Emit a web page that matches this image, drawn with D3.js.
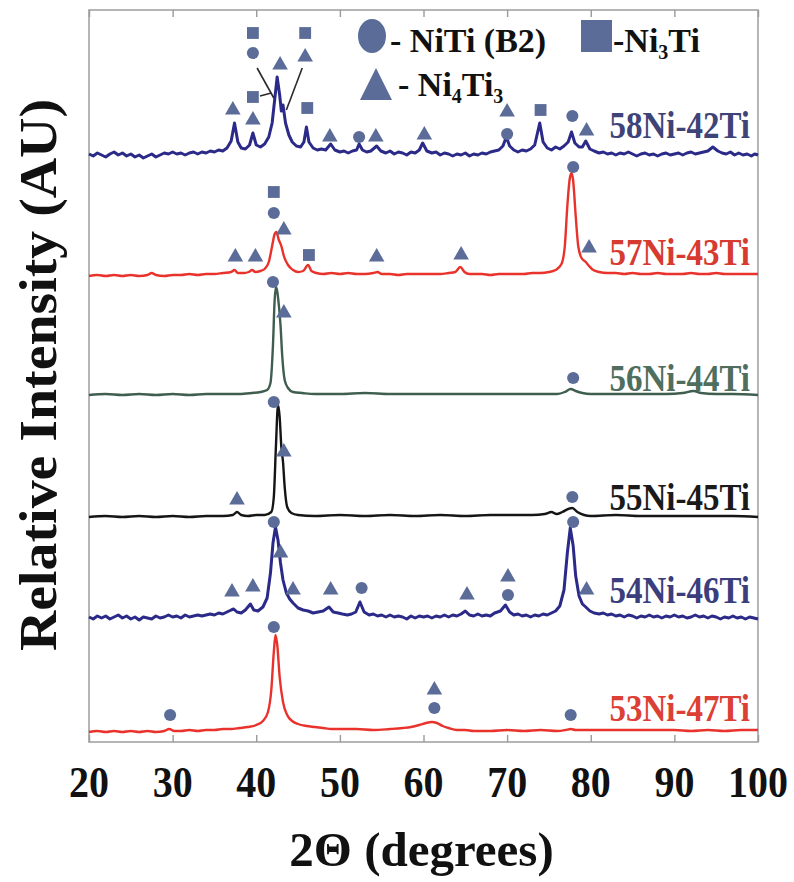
<!DOCTYPE html>
<html><head><meta charset="utf-8">
<script src="https://cdn.jsdelivr.net/npm/d3@7"></script>
<style>
body{margin:0;background:#fff}
text{font-family:"Liberation Serif","Times New Roman",serif;font-weight:bold}
</style></head>
<body><svg id="chart" width="794" height="882"></svg>
<script>
// ---------- data ----------
const xTicks = [20,30,40,50,60,70,80,90,100];
const seriesNames = ["58Ni-42Ti","57Ni-43Ti","56Ni-44Ti","55Ni-45Ti","54Ni-46Ti","53Ni-47Ti"];
const seriesOffsets = [587,466,347,225,124,10];
const labelLift = [17,11,4,7,15,11];

const s58 = [[20,1],[20.5,-1],[21,2],[21.5,0],[22,-2],[22.5,1],[23,3],[23.5,0],[24,2],[24.5,-1],[25,1],[25.5,-2],[26,0],[26.5,-3],[27,-1],[27.5,1],[28,-2],[28.5,0],[29,2],[29.5,1],[30,3],[30.5,1],[31,2],[31.5,0],[32,2],[32.5,3],[33,1],[33.5,3],[34,2],[34.5,4],[35,3],[35.5,5],[36,4],[36.5,7],[37,14],[37.4,32],[37.8,13],[38.2,7],[38.7,6],[39.2,10],[39.6,22],[40,10],[40.5,8],[41,11],[41.5,18],[41.9,32],[42.2,55],[42.5,78],[42.8,60],[43.0,44],[43.2,50],[43.5,32],[43.9,20],[44.3,13],[44.8,9],[45.3,8],[45.7,13],[46,28],[46.3,13],[46.8,7],[47.3,5],[47.8,6],[48.3,5],[48.9,11],[49.4,5],[50,3],[50.5,4],[51,2],[51.5,4],[52,5],[52.3,11],[52.7,5],[53.2,3],[53.7,4],[54.4,9],[54.9,4],[55.5,2],[56,4],[56.5,1],[57,3],[57.5,2],[58,0],[58.5,3],[59,2],[59.5,5],[59.9,12],[60.4,4],[61,2],[61.5,3],[62,0],[62.5,2],[63,1],[63.5,-1],[64,1],[64.5,0],[65,2],[65.5,-1],[66,1],[66.5,0],[67,2],[67.5,1],[68,3],[68.5,4],[69,5],[69.5,9],[69.9,18],[70.3,9],[70.8,5],[71.3,3],[71.8,5],[72.3,4],[72.8,6],[73.3,10],[73.9,32],[74.3,13],[74.8,7],[75.3,5],[75.8,8],[76.3,6],[76.8,9],[77.3,13],[77.7,23],[78.1,12],[78.6,8],[79,8],[79.4,14],[79.9,6],[80.4,4],[81,2],[81.5,3],[82,1],[82.5,2],[83,0],[83.5,2],[84,1],[84.5,3],[85,1],[85.5,-1],[86,1],[86.5,2],[87,0],[87.5,1],[88,-1],[88.5,1],[89,2],[89.5,0],[90,1],[90.5,2],[91,0],[91.5,2],[92,3],[92.5,1],[93,2],[93.5,3],[94,4],[94.6,8],[95.2,4],[95.7,2],[96.2,1],[96.7,3],[97.2,0],[97.7,2],[98.2,0],[98.7,1],[99.2,-1],[99.6,1],[100,0]];

const s57 = [[20,0],[21,1],[22,0],[23,1],[24,0],[25,1],[26,0],[27,1],[27.5,3],[28,1],[29,0],[30,1],[31,1],[32,2],[33,1],[34,2],[35,2],[36,3],[37,4],[37.4,6],[37.8,3],[38.5,3],[39.1,4],[39.5,6],[39.9,4],[40.5,5],[41,7],[41.5,14],[41.9,30],[42.2,42],[42.4,44],[42.7,36],[43,30],[43.3,20],[43.8,11],[44.4,6],[45,4],[45.6,5],[46.2,11],[46.6,5],[47.2,3],[48,2],[49,3],[50,2],[51,3],[52,2],[53,2],[54,3],[54.5,4],[55,2],[56,2],[57,1],[58,2],[59,2],[60,2],[61,2],[62,2],[63,3],[63.8,4],[64.4,9],[64.9,4],[65.5,2],[66,2],[67,2],[68,1],[69,2],[70,2],[71,2],[72,2],[73,3],[74,3],[75,4],[75.8,6],[76.5,12],[76.9,30],[77.2,70],[77.5,98],[77.7,103],[77.9,95],[78.2,60],[78.5,30],[78.9,18],[79.4,14],[79.8,10],[80.3,6],[81,4],[82,3],[83,3],[84,2],[85,3],[86,2],[87,2],[88,3],[89,2],[90,2],[91,2],[92,3],[93,2],[94,2],[95,3],[96,2],[97,2],[98,2],[99,2],[100,2]];

const s56 = [[20,0],[22,1],[24,0],[26,1],[28,0],[30,1],[32,0],[34,1],[36,1],[38,1],[39.5,2],[40.5,3],[41.3,5],[41.7,12],[42.0,50],[42.2,95],[42.35,108],[42.5,104],[42.7,90],[42.9,70],[43.1,40],[43.4,15],[43.8,7],[44.4,3],[45.5,2],[47,1],[50,1],[53,2],[56,1],[59,1],[62,1],[65,1],[68,1],[71,1],[74,1],[76,1],[76.9,3],[77.6,6],[78.2,4],[79,2],[80,1],[83,1],[86,1],[89,1],[91,2],[92.3,4],[93.2,2],[95,1],[97,1],[100,0]];

const s55 = [[20,0],[22,1],[24,0],[26,1],[28,0],[30,1],[32,0],[34,1],[36,1],[37.2,2],[37.7,5],[38.2,2],[39,1],[40,2],[41,2],[41.8,5],[42.1,20],[42.35,70],[42.6,112],[42.8,100],[43.0,70],[43.2,55],[43.4,30],[43.7,10],[44.2,4],[45,2],[47,1],[50,2],[53,1],[56,2],[59,1],[62,2],[65,1],[68,2],[71,2],[73,2],[74.5,3],[75.3,5],[75.9,3],[76.6,5],[77.3,8],[77.8,9],[78.4,5],[79.2,2],[80,1],[83,2],[86,1],[89,1],[92,1],[95,1],[97,1],[100,0]];

const s54 = [[20,1],[20.5,-1],[21,2],[21.5,0],[22,2],[22.5,-1],[23,1],[23.5,3],[24,0],[24.5,2],[25,-1],[25.5,1],[26,-2],[26.5,1],[27,0],[27.5,-1],[28,2],[28.5,0],[29,1],[29.5,3],[30,1],[30.5,2],[31,0],[31.5,3],[32,1],[32.5,2],[33,3],[33.5,2],[34,3],[34.5,4],[35,3],[35.5,5],[36,4],[36.5,6],[37,8],[37.3,9],[37.7,6],[38.2,5],[38.7,8],[39.3,14],[39.7,8],[40.2,7],[40.8,11],[41.3,20],[41.7,45],[42.0,75],[42.3,91],[42.6,78],[42.9,55],[43.2,38],[43.6,25],[44,19],[44.4,15],[45,10],[45.6,8],[46.2,7],[46.8,5],[47.4,6],[48,7],[48.7,11],[49.2,6],[49.8,5],[50.3,4],[50.9,3],[51.4,4],[51.9,6],[52.4,16],[52.9,6],[53.5,3],[54,4],[54.5,2],[55,3],[55.5,1],[56,3],[56.5,1],[57,2],[57.5,1],[58,-1],[58.5,2],[59,0],[59.5,2],[60,1],[60.5,2],[61,0],[61.5,2],[62,1],[62.5,3],[63,1],[63.5,3],[64,2],[64.5,4],[65,7],[65.5,3],[66,2],[66.5,4],[67,2],[67.5,3],[68,2],[68.5,5],[69.2,7],[69.8,13],[70.3,6],[70.8,3],[71.3,4],[71.8,2],[72.3,3],[72.8,1],[73.3,3],[73.8,2],[74.3,4],[74.8,3],[75.3,5],[75.8,7],[76.3,12],[76.8,28],[77.2,65],[77.55,90],[77.9,72],[78.2,42],[78.6,22],[79,14],[79.4,11],[79.9,7],[80.4,5],[81,4],[81.5,5],[82,3],[82.5,4],[83,2],[83.5,3],[84,1],[84.5,3],[85,2],[85.5,0],[86,2],[86.5,1],[87,3],[87.5,1],[88,2],[88.5,0],[89,2],[89.5,1],[90,3],[90.5,1],[91,2],[91.5,0],[92,1],[92.5,3],[93,1],[93.5,2],[94,0],[94.5,2],[95,1],[95.5,-1],[96,1],[96.5,0],[97,2],[97.5,0],[98,1],[98.5,-1],[99,1],[99.5,0],[100,-1]];

const s53 = [[20,0],[21,1],[22,0],[23,1],[24,0],[25,1],[26,0],[27,1],[28,0],[29,1],[29.6,3],[30.2,1],[31,1],[32,2],[33,1],[34,2],[35,2],[36,3],[37,3],[38,4],[39,5],[40,7],[40.8,11],[41.4,20],[41.8,42],[42.1,80],[42.3,97],[42.5,88],[42.8,55],[43.2,30],[43.7,17],[44.3,11],[45,8],[46,6],[47,5],[48,4],[49,3],[50,3],[52,3],[54,2],[56,3],[57.5,4],[58.5,5],[59.5,7],[60.3,9],[61,10],[61.6,9],[62.3,6],[63,4],[64,2],[65,2],[66,1],[68,1],[70,2],[72,1],[74,2],[76,1],[77,2],[77.6,3],[78.2,2],[80,2],[82,2],[84,2],[86,2],[88,2],[90,2],[92,1],[94,2],[96,1],[98,2],[100,2]];

const seriesData = [s58,s57,s56,s55,s54,s53];

// phase markers: [type, 2theta, height above the trace baseline]  c = NiTi(B2), s = Ni3Ti, t = Ni4Ti3
const m58 = [["s",39.6,122],["c",39.6,102],["t",42.85,90],["s",45.85,122],["t",45.85,98],["s",39.6,58],["t",37.2,45],["t",39.6,35],["s",46.1,47],["t",48.8,18],["c",52.3,18],["t",54.3,18],["t",60.1,20],["t",70.0,43],["c",70.0,21],["s",74.0,45],["c",77.8,39],["t",79.5,24]];
const m57 = [["s",42.1,84],["c",42.1,63],["t",43.3,46],["t",37.5,19],["t",39.9,19],["s",46.3,21],["t",54.4,19],["t",64.5,21],["c",77.9,109],["t",79.8,28]];
const m56 = [["c",42.0,113],["t",43.3,82],["c",77.9,17]];
const m55 = [["c",42.1,115],["t",43.3,65],["t",37.7,17],["c",77.8,20]];
const m54 = [["c",42.1,96],["t",42.9,65],["t",37.1,26],["t",39.6,31],["t",44.4,28],["t",48.9,28],["c",52.6,30],["t",65.2,23],["t",70.1,41],["c",70.1,23],["c",77.9,96],["t",79.5,28]];
const m53 = [["c",42.1,105],["c",29.7,17],["t",61.3,42],["c",61.3,24],["c",77.6,17]];
const seriesMarkers = [m58,m57,m56,m55,m54,m53];

// leader lines on the 58Ni-42Ti pattern: [2theta1, h1, 2theta2, h2]
const leaders58 = [[40.1,87,42.1,57],[45.5,87,43.6,45],[40.45,59,41.8,62]];

// ---------- styles ----------
const lineColors = ["#2b2a88","#e8322b","#3f5e4f","#151515","#2b2a88","#e8322b"];
const labelColors = ["#3e4378","#d63a30","#4f6e5e","#1a1a1a","#3a3e7c","#dc4034"];
const lineWidths = [3,2.4,2.4,2.4,3,2.4];
const markerColor = "#5b6c98";

const W = 794, H = 882;
const M = {left:89, right:758, top:10, bottom:742};
const svg = d3.select("#chart");
svg.append("rect").attr("width",W).attr("height",H).attr("fill","#fff");

const x = d3.scaleLinear().domain([20,100]).range([M.left,M.right]);
const y = d3.scaleLinear().domain([0,732]).range([M.bottom,M.top]);

// frame
svg.append("rect").attr("x",M.left).attr("y",M.top)
  .attr("width",M.right-M.left).attr("height",M.bottom-M.top)
  .attr("fill","none").attr("stroke","#a3a3a3").attr("stroke-width",1.6);

// axes (ticks inside, top & bottom)
const gB = svg.append("g").attr("transform",`translate(0,${M.bottom})`)
  .call(d3.axisBottom(x).tickValues(xTicks).tickSize(-7).tickFormat(""));
const gT = svg.append("g").attr("transform",`translate(0,${M.top})`)
  .call(d3.axisTop(x).tickValues(xTicks).tickSize(-7).tickFormat(""));
[gB,gT].forEach(g=>{g.select(".domain").remove();g.selectAll("line").attr("stroke","#9a9a9a").attr("stroke-width",1.4);});

// tick labels
svg.append("g").selectAll("text").data(xTicks).join("text")
  .attr("transform",d=>`translate(${x(d)},797) scale(1,1.12)`)
  .attr("text-anchor","middle").attr("font-size",40).attr("fill","#111")
  .text(d=>d);

// axis titles
svg.append("text").attr("x",(M.left+M.right)/2-2).attr("y",866)
  .attr("text-anchor","middle").attr("font-size",49).attr("fill","#111")
  .text("2\u0398 (degrees)");
svg.append("text").attr("transform","translate(56,375) rotate(-90)")
  .attr("text-anchor","middle").attr("font-size",52).attr("fill","#111")
  .attr("textLength",552).attr("lengthAdjust","spacingAndGlyphs")
  .text("Relative Intensity (AU)");

// traces
const plot = svg.append("g");
seriesData.forEach((data,i)=>{
  const off = seriesOffsets[i];
  const line = d3.line().x(d=>x(d[0])).y(d=>y(off+d[1]))
    .curve(i===0||i===4 ? d3.curveLinear : d3.curveMonotoneX);
  plot.append("path").datum(data).attr("d",line)
    .attr("fill","none").attr("stroke",lineColors[i])
    .attr("stroke-width",lineWidths[i]).attr("stroke-linejoin","round");
});

// leader lines
plot.selectAll("line.leader").data(leaders58).join("line").attr("class","leader")
  .attr("x1",d=>x(d[0])).attr("y1",d=>y(seriesOffsets[0]+d[1]))
  .attr("x2",d=>x(d[2])).attr("y2",d=>y(seriesOffsets[0]+d[3]))
  .attr("stroke","#2a2a2a").attr("stroke-width",1.6);

// markers
const sym = {c:d3.symbolCircle, s:d3.symbolSquare, t:d3.symbolTriangle};
const symSize = {c:115, s:140, t:105};
seriesMarkers.forEach((ms,i)=>{
  const off = seriesOffsets[i];
  plot.append("g").selectAll("path").data(ms).join("path")
    .attr("transform",d=>`translate(${x(d[1])},${y(off+d[2])})`)
    .attr("d",d=>d3.symbol(sym[d[0]],symSize[d[0]])())
    .attr("fill",markerColor);
});

// series labels
svg.append("g").selectAll("text").data(seriesNames).join("text")
  .attr("transform",(d,i)=>`translate(750,${y(seriesOffsets[i]+labelLift[i])}) scale(1,1.12)`)
  .attr("text-anchor","end").attr("font-size",33)
  .attr("fill",(d,i)=>labelColors[i]).text(d=>d);

// legend
const lg = svg.append("g");
lg.append("ellipse").attr("cx",372).attr("cy",36).attr("rx",14).attr("ry",17).attr("fill",markerColor);
lg.append("text").attr("x",390).attr("y",52).attr("font-size",34).attr("fill","#111").text("- NiTi (B2)");
lg.append("rect").attr("x",581).attr("y",20).attr("width",31).attr("height",32).attr("fill",markerColor);
const t2 = lg.append("text").attr("x",613).attr("y",52).attr("font-size",34).attr("fill","#111");
t2.append("tspan").text("-Ni");
t2.append("tspan").attr("font-size",20).attr("dy",7).text("3");
t2.append("tspan").attr("dy",-7).text("Ti");
lg.append("path").attr("d","M376,68 L392,100 L360,100 Z").attr("fill",markerColor);
const t3 = lg.append("text").attr("x",398).attr("y",96).attr("font-size",34).attr("fill","#111");
t3.append("tspan").text("- Ni");
t3.append("tspan").attr("font-size",20).attr("dy",7).text("4");
t3.append("tspan").attr("dy",-7).text("Ti");
t3.append("tspan").attr("font-size",20).attr("dy",7).text("3");
</script>
</body></html>
